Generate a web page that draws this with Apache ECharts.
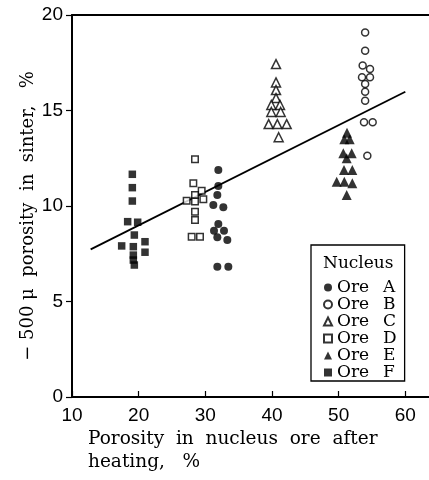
<!DOCTYPE html>
<html>
<head>
<meta charset="utf-8">
<script src="https://cdn.jsdelivr.net/npm/echarts@6/dist/echarts.min.js"></script>
<style>
  html, body { margin: 0; padding: 0; background: #fff; }
  #chart { width: 429px; height: 480px; }
</style>
</head>
<body>
<div id="chart"></div>
<script>
"use strict";

// 刻度
const xTicks = [10, 20, 30, 40, 50, 60];
const yTicks = [0, 5, 10, 15, 20];

// 各矿石数据 [核矿加热后气孔率 %, 烧结矿 -500μ 气孔率 %]
const oreA = [
  [31.95, 11.88], [31.95, 11.05], [31.8, 10.58], [31.2, 10.05], [32.7, 9.93],
  [31.95, 9.06], [31.3, 8.71], [32.8, 8.71], [31.8, 8.36], [33.3, 8.22],
  [31.8, 6.82], [33.45, 6.82],
];
const oreB = [
  [53.97, 19.09], [53.97, 18.13], [53.6, 17.35], [54.7, 17.17], [53.5, 16.74],
  [54.7, 16.74], [53.97, 16.39], [53.97, 15.98], [53.97, 15.51], [53.8, 14.38],
  [55.1, 14.38], [54.3, 12.63],
];
const oreC = [
  [40.6, 17.43], [40.6, 16.47], [40.6, 16.07], [40.6, 15.65], [39.9, 15.29],
  [41.2, 15.29], [39.9, 14.92], [41.3, 14.92], [39.5, 14.29], [40.8, 14.29],
  [42.2, 14.29], [41.0, 13.6],
];
const oreD = [
  [28.45, 12.45], [28.2, 11.19], [29.45, 10.8], [28.45, 10.58], [27.2, 10.28],
  [28.45, 10.23], [29.7, 10.35], [28.45, 9.7], [28.45, 9.27], [27.95, 8.39],
  [29.2, 8.39],
];
const oreE = [
  [51.25, 13.84], [50.85, 13.49], [51.65, 13.49], [50.7, 12.76], [51.95, 12.76],
  [51.2, 12.5], [50.8, 11.88], [52.05, 11.88], [49.7, 11.27], [50.85, 11.27],
  [52.05, 11.19], [51.2, 10.58],
];
const oreF = [
  [19.05, 11.66], [19.05, 10.96], [19.05, 10.26], [18.35, 9.18], [19.85, 9.15],
  [19.35, 8.48], [20.95, 8.13], [17.45, 7.91], [19.2, 7.87], [20.95, 7.58],
  [19.2, 7.43], [19.2, 7.17], [19.35, 6.91],
];
// 回归直线两端
const fitLine = [[12.8, 7.73], [60, 15.98]];

const serif = "DejaVu Serif";
const sans = "Liberation Sans";

// 散点系列
const makeSeries = (name, data, symbol, size, filled) => ({
  name,
  type: "scatter",
  data,
  symbol,
  symbolSize: size,
  z: 3,
  itemStyle: filled
    ? { color: "#000" }
    : { color: "#fff", borderColor: "#000", borderWidth: 1.5 },
  emphasis: { disabled: true },
});

const chart = echarts.init(document.getElementById("chart"));
chart.setOption({
  animation: false,
  backgroundColor: "#fff",
  grid: { left: 72, right: 0, top: 15, bottom: 83 },
  xAxis: [
    {
      type: "value",
      min: 10,
      max: 63.55,
      interval: 10,
      axisLine: { onZero: false, lineStyle: { color: "#000", width: 2 } },
      axisTick: { inside: true, length: 6, lineStyle: { color: "#000", width: 1.2 } },
      axisLabel: {
        margin: 9,
        color: "#000",
        fontFamily: sans,
        fontSize: 19,
        showMaxLabel: false,
        formatter: (v) => (xTicks.includes(v) ? String(v) : ""),
      },
      splitLine: { show: false },
    },
    {
      // 顶部边框
      type: "value",
      position: "top",
      min: 10,
      max: 63.55,
      axisLine: { show: true, onZero: false, lineStyle: { color: "#000", width: 2 } },
      axisTick: { show: false },
      axisLabel: { show: false },
      splitLine: { show: false },
    },
  ],
  yAxis: {
    type: "value",
    min: 0,
    max: 20,
    interval: 5,
    axisLine: { show: true, lineStyle: { color: "#000", width: 2 } },
    axisTick: { length: 6, lineStyle: { color: "#000", width: 1.2 } },
    axisLabel: {
      margin: 9,
      color: "#000",
      fontFamily: sans,
      fontSize: 19,
      formatter: (v) => (yTicks.includes(v) ? String(v) : ""),
    },
    splitLine: { show: false },
  },
  legend: {
    orient: "vertical",
    left: 311,
    top: 245,
    padding: [34, 8, 0, 12],
    borderColor: "#000",
    borderWidth: 1.3,
    itemWidth: 8,
    itemHeight: 8,
    itemGap: 0,
    selectedMode: false,
    textStyle: {
      color: "#000",
      fontFamily: serif,
      fontSize: 17,
      lineHeight: 16.2,
      rich: {
        a: { width: 46, fontFamily: serif, fontSize: 17, lineHeight: 16.2 },
        b: { fontFamily: serif, fontSize: 17, lineHeight: 16.2 },
      },
    },
    formatter: (name) => `{a|Ore}{b|${name.slice(-1)}}`,
    data: ["Ore A", "Ore B", "Ore C", "Ore D", "Ore E", "Ore F"],
  },
  graphic: [
    {
      type: "text",
      left: 323,
      top: 255,
      style: { text: "Nucleus", font: `17px "${serif}"`, fill: "#000" },
    },
    {
      type: "text",
      x: 88,
      y: 428,
      style: {
        text: "Porosity  in  nucleus  ore  after\nheating,   %",
        font: `18.5px "${serif}"`,
        lineHeight: 23,
        fill: "#000",
      },
    },
    {
      type: "text",
      x: 28,
      y: 216,
      rotation: Math.PI / 2,
      style: {
        text: "\u2212 500 \u03bc  porosity  in  sinter,   %",
        font: `18px "${serif}"`,
        fill: "#000",
        align: "center",
        verticalAlign: "middle",
      },
    },
  ],
  series: [
    {
      name: "fit",
      type: "line",
      data: fitLine,
      showSymbol: false,
      z: 2,
      lineStyle: { color: "#000", width: 1.8 },
      emphasis: { disabled: true },
    },
    makeSeries("Ore A", oreA, "circle", 8, true),
    makeSeries("Ore B", oreB, "circle", 7, false),
    makeSeries("Ore C", oreC, "triangle", 9, false),
    makeSeries("Ore D", oreD, "rect", 6.5, false),
    makeSeries("Ore E", oreE, "triangle", 10, true),
    makeSeries("Ore F", oreF, "rect", 7.5, true),
  ],
});
</script>
</body>
</html>
